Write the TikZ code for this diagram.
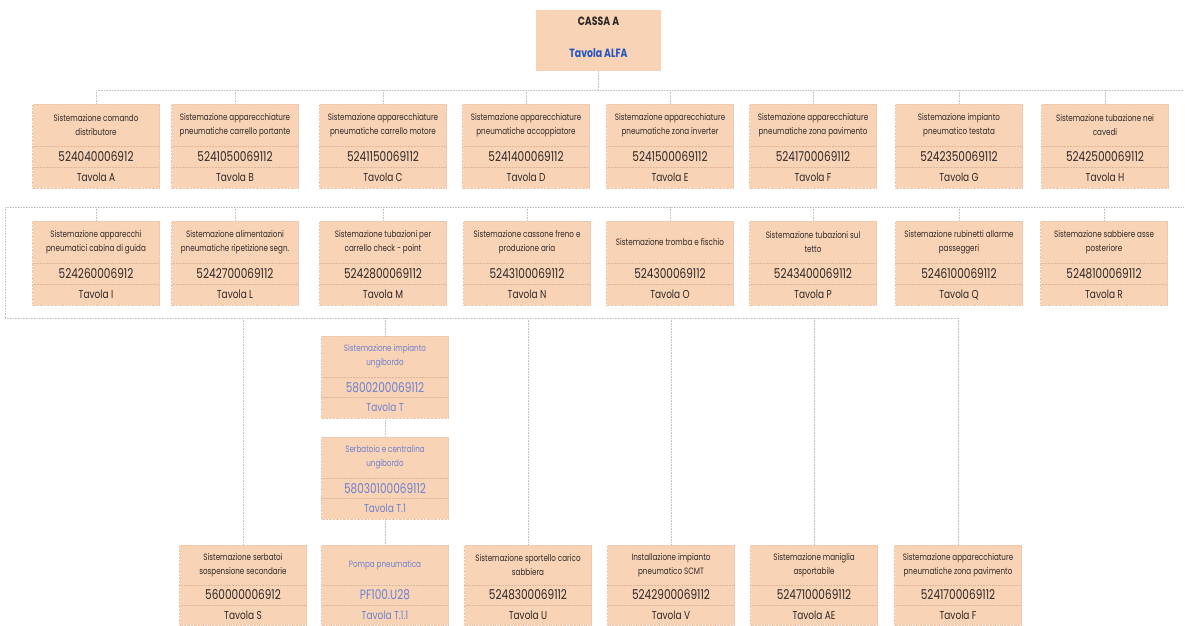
\documentclass[tikz,border=0pt]{standalone}
\usepackage{fontspec}
\setmainfont{Poppins}[FakeStretch=0.78]
\usetikzlibrary{calc}
\definecolor{peach}{RGB}{249,211,182}
\definecolor{txt}{RGB}{45,40,38}
\definecolor{blu}{RGB}{110,128,205}
\definecolor{alfa}{RGB}{35,85,195}
\definecolor{conncol}{RGB}{195,195,195}
\definecolor{divc}{RGB}{222,182,155}
\tikzset{
  cbx/.style={fill=peach, draw=peach!55!divc, densely dotted, line width=0.4pt,
    minimum width=127pt, anchor=north, inner sep=0pt},
  ttl/.style={align=center, inner sep=0pt, font=\fontsize{9.2}{14}\selectfont},
  num/.style={inner sep=0pt, font=\fontsize{13.5}{14}\selectfont},
  tav/.style={inner sep=0pt, font=\fontsize{11.5}{14}\selectfont},
  divl/.style={draw=divc, densely dotted, line width=0.5pt},
  conn/.style={draw=conncol, densely dotted, line width=0.6pt},
}
\newcommand\orgbox[8]{%
  \node[cbx, minimum height=#4pt] (#1) at (#2,#3) {};
  \node[ttl, text=#8] at ($(#1.north)+(0,#4*0.25)$) {#5};
  \draw[divl] ($(#1.north west)+(0,#4*0.5)$) -- ($(#1.north east)+(0,#4*0.5)$);
  \node[num, text=#8] at ($(#1.north)+(0,#4*0.625)$) {#6};
  \draw[divl] ($(#1.north west)+(0,#4*0.75)$) -- ($(#1.north east)+(0,#4*0.75)$);
  \node[tav, text=#8] at ($(#1.north)+(0,#4*0.875)$) {#7};
}
\begin{document}
\begin{tikzpicture}[x=1pt,y=-1pt]
\useasboundingbox[fill=white] (0,0) rectangle (1185,625);

% top box
\node[fill=peach, minimum width=125pt, minimum height=61pt, anchor=north, inner sep=0pt] (top) at (598.5,10) {};
\node[inner sep=0pt, text=txt, font=\fontsize{12}{14}\selectfont\bfseries] (topA) at ($(top.north)+(0,11)$) {CASSA A};
\node[inner sep=0pt, text=alfa, font=\fontsize{12}{14}\selectfont\bfseries] (topB) at ($(top.north)+(0,43)$) {Tavola ALFA};

% row 1
\orgbox{A}{96}{104}{84}{Sistemazione comando\\distributore}{524040006912}{Tavola A}{txt}
\orgbox{B}{235}{104}{84}{Sistemazione apparecchiature\\pneumatiche carrello portante}{5241050069112}{Tavola B}{txt}
\orgbox{C}{383}{104}{84}{Sistemazione apparecchiature\\pneumatiche carrello motore}{5241150069112}{Tavola C}{txt}
\orgbox{D}{526}{104}{84}{Sistemazione apparecchiature\\pneumatiche accoppiatore}{5241400069112}{Tavola D}{txt}
\orgbox{E}{670}{104}{84}{Sistemazione apparecchiature\\pneumatiche zona inverter}{5241500069112}{Tavola E}{txt}
\orgbox{F}{813}{104}{84}{Sistemazione apparecchiature\\pneumatiche zona pavimento}{5241700069112}{Tavola F}{txt}
\orgbox{G}{959}{104}{84}{Sistemazione impianto\\pneumatico testata}{5242350069112}{Tavola G}{txt}
\orgbox{H}{1105}{104}{84}{Sistemazione tubazione nei\\cavedi}{5242500069112}{Tavola H}{txt}

% row 2
\orgbox{I}{96}{221}{84}{Sistemazione apparecchi\\pneumatici cabina di guida}{524260006912}{Tavola I}{txt}
\orgbox{L}{235}{221}{84}{Sistemazione alimentazioni\\pneumatiche ripetizione segn.}{5242700069112}{Tavola L}{txt}
\orgbox{M}{383}{221}{84}{Sistemazione tubazioni per\\carrello check - point}{5242800069112}{Tavola M}{txt}
\orgbox{N}{527}{221}{84}{Sistemazione cassone freno e\\produzione aria}{5243100069112}{Tavola N}{txt}
\orgbox{O}{670}{221}{84}{Sistemazione tromba e fischio}{524300069112}{Tavola O}{txt}
\orgbox{P}{813}{221}{84}{Sistemazione tubazioni sul\\tetto}{5243400069112}{Tavola P}{txt}
\orgbox{Q}{959}{221}{84}{Sistemazione rubinetti allarme\\passeggeri}{5246100069112}{Tavola Q}{txt}
\orgbox{R}{1104}{221}{84}{Sistemazione sabbiere asse\\posteriore}{5248100069112}{Tavola R}{txt}

% middle column
\orgbox{T}{385}{336}{82}{Sistemazione impianto\\ungibordo}{5800200069112}{Tavola T}{blu}
\orgbox{T1}{385}{437}{82}{Serbatoio e centralina\\ungibordo}{58030100069112}{Tavola T.1}{blu}

% bottom row
\orgbox{S}{243}{545}{80}{Sistemazione serbatoi\\sospensione secondarie}{560000006912}{Tavola S}{txt}
\orgbox{T11}{385}{545}{80}{Pompa pneumatica}{PF100.U28}{Tavola T.1.1}{blu}
\orgbox{U}{528}{545}{80}{Sistemazione sportello carico\\sabbiera}{5248300069112}{Tavola U}{txt}
\orgbox{V}{671}{545}{80}{Installazione impianto\\pneumatico SCMT}{5242900069112}{Tavola V}{txt}
\orgbox{AE}{814}{545}{80}{Sistemazione maniglia\\asportabile}{5247100069112}{Tavola AE}{txt}
\orgbox{Fb}{958}{545}{80}{Sistemazione apparecchiature\\pneumatiche zona pavimento}{5241700069112}{Tavola F}{txt}

% connectors
\coordinate (j1) at (598.5,90);
\coordinate (j1e) at (1183,90);
\coordinate (j2w) at (5,207);
\coordinate (j2e) at (1183,207);
\coordinate (j3w) at (5,318);
\draw[conn] (top.south) -- (j1);
\draw[conn] (A.north |- j1) -- (j1e);
\foreach \n in {A,B,C,D,E,F,G,H} \draw[conn] (\n.north |- j1) -- (\n.north);
\draw[conn] (j2w) -- (j2e);
\foreach \n in {I,L,M,N,O,P,Q,R} \draw[conn] (\n.north |- j2w) -- (\n.north);
\draw[conn] (j2w) -- (j3w);
\draw[conn] (j3w) -- (Fb.north |- j3w);
\foreach \n in {S,T,U,V,AE,Fb} \draw[conn] (\n.north |- j3w) -- (\n.north);
\draw[conn] (T.south) -- (T1.north);
\draw[conn] (T1.south) -- (T11.north);
\end{tikzpicture}
\end{document}
